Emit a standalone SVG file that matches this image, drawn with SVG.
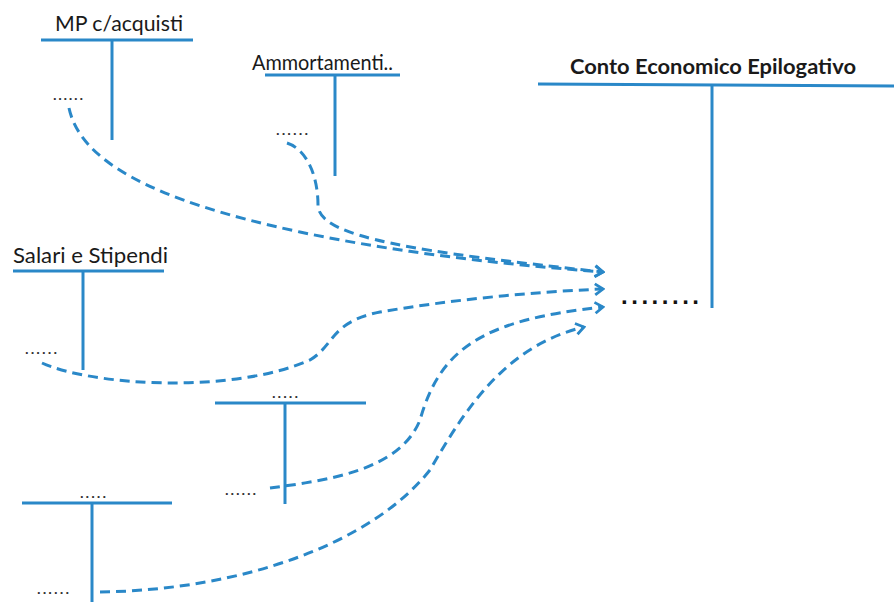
<svg xmlns="http://www.w3.org/2000/svg" width="894" height="610" viewBox="0 0 894 610">
<style>
.t{fill:none;stroke:#2a88c8;stroke-width:3}
.lab{font-family:Lato,"Open Sans",sans-serif;font-size:21px;fill:#1a1a1a}
.b{font-weight:bold}
.d{font-family:"Liberation Sans",sans-serif;font-size:13px;font-weight:bold;fill:#333}
.c{fill:none;stroke:#2a88c8;stroke-width:3;stroke-dasharray:10 6;marker-end:url(#ar)}
</style>
<defs>
<marker id="ar" viewBox="0 0 14 14" refX="12" refY="7" markerWidth="14" markerHeight="14" markerUnits="userSpaceOnUse" orient="auto">
<polyline points="4,1.5 12,7 4,12.5" fill="none" stroke="#2a88c8" stroke-width="2.8"/>
</marker>
</defs>
<rect width="894" height="610" fill="#fff"/>
<g id="mp">
<text class="lab" x="55" y="31" textLength="128" lengthAdjust="spacingAndGlyphs">MP c/acquisti</text>
<line class="t" x1="41" y1="40" x2="193" y2="40"/>
<line class="t" x1="112" y1="40" x2="112" y2="140"/>
<text class="d" x="53" y="100" textLength="30">......</text>
</g>
<g id="amm">
<text class="lab" x="252" y="70" textLength="141" lengthAdjust="spacingAndGlyphs">Ammortamenti..</text>
<line class="t" x1="265" y1="75" x2="400" y2="75"/>
<line class="t" x1="335" y1="75" x2="335" y2="176"/>
<text class="d" x="276" y="135" textLength="32">......</text>
</g>
<g id="ce">
<text class="lab b" x="570" y="74" textLength="286" lengthAdjust="spacingAndGlyphs">Conto Economico Epilogativo</text>
<line class="t" x1="538" y1="84" x2="894" y2="86"/>
<line class="t" x1="712" y1="84" x2="712" y2="308"/>
<text x="621" y="304" font-family="Liberation Sans,sans-serif" font-size="24" font-weight="bold" fill="#111" textLength="78">........</text>
</g>
<g id="sal">
<text class="lab" x="13" y="263" textLength="155" lengthAdjust="spacingAndGlyphs">Salari e Stipendi</text>
<line class="t" x1="13" y1="271" x2="164" y2="271"/>
<line class="t" x1="83" y1="271" x2="83" y2="370"/>
<text class="d" x="25" y="354" textLength="32">......</text>
</g>
<g id="t4">
<text class="d" x="272" y="398" textLength="26">.....</text>
<line class="t" x1="215" y1="403" x2="366" y2="403"/>
<line class="t" x1="285" y1="403" x2="285" y2="504"/>
<text class="d" x="225" y="495" textLength="31">......</text>
</g>
<g id="t5">
<text class="d" x="80" y="498" textLength="26">.....</text>
<line class="t" x1="22" y1="503" x2="172" y2="503"/>
<line class="t" x1="92" y1="503" x2="92" y2="602"/>
<text class="d" x="37" y="594" textLength="32">......</text>
</g>
<g id="connectors">
<path class="c" d="M69,108 C80,160 150,200 300,232 C400,253 500,264 603,272"/>
<path class="c" d="M287,143 C308,150 318,178 318,205 C318,238 420,252 603,272"/>
<path class="c" d="M42,363 C90,385 230,395 310,360 C335,345 330,322 380,312 C450,300 530,292 603,289"/>
<path class="c" d="M270,488 C330,480 400,470 420,420 C440,350 480,320 603,307"/>
<path class="c" d="M100,592 C240,590 370,545 430,470 C470,400 510,345 584,327"/>
</g>
</svg>
